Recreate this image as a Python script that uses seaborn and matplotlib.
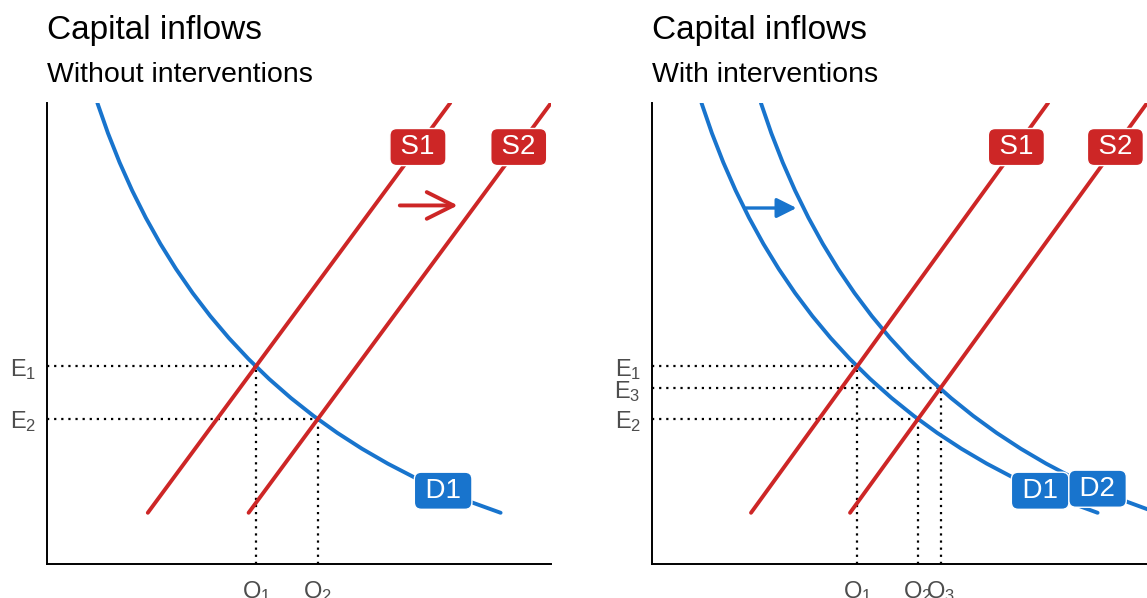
import matplotlib
matplotlib.use('Agg')
import matplotlib.pyplot as plt
import seaborn as sns

# Curves (x = quantity, y = price)
DEMAND1_X = [1.00, 1.21, 1.44, 1.69, 1.96, 2.25, 2.56, 2.89, 3.24, 3.61, 4.00,
             4.41, 4.84, 5.29, 5.76, 6.25, 6.76, 7.29, 7.84, 8.41, 9.00]
DEMAND2_X = [2.20, 2.41, 2.64, 2.89, 3.16, 3.45, 3.76, 4.09, 4.44, 4.81, 5.20,
             5.61, 6.04, 6.49, 6.96, 7.45, 7.96, 8.49, 9.04, 9.61, 10.20]
DEMAND_Y = [9.00, 8.41, 7.84, 7.29, 6.76, 6.25, 5.76, 5.29, 4.84, 4.41, 4.00,
            3.61, 3.24, 2.89, 2.56, 2.25, 1.96, 1.69, 1.44, 1.21, 1.00]
SUPPLY1_X = [2, 8]
SUPPLY2_X = [4, 10]
SUPPLY_Y = [1, 9]

# Equilibrium points
EQ_LEFT = {'1': (4.15, 3.86), '2': (5.37, 2.83)}
EQ_RIGHT = {'1': (4.15, 3.86), '3': (5.83, 3.43), '2': (5.37, 2.83)}

# Curve label positions
LABELS_LEFT = [('S1', 7.36, 8.14, 'red'), ('S2', 9.36, 8.14, 'red'), ('D1', 7.86, 1.43, 'blue')]
LABELS_RIGHT = [('S1', 7.36, 8.14, 'red'), ('S2', 9.36, 8.14, 'red'),
                ('D1', 7.84, 1.43, 'blue'), ('D2', 9.00, 1.47, 'blue')]

TITLES = ['Capital inflows', 'Capital inflows']
SUBTITLES = ['Without interventions', 'With interventions']

RED = '#CD2626'
BLUE = '#1874CD'
COLORS = {'red': RED, 'blue': BLUE}
W, H = 1147, 598
LW = 2.8


def style_axis(ax, xmax, eq, y_order):
    """Axis limits, spines and subscript tick labels."""
    ax.set_xlim(0, xmax)
    ax.set_ylim(0, 9)
    for side in ['top', 'right']:
        ax.spines[side].set_visible(False)
    for side in ['left', 'bottom']:
        ax.spines[side].set_color('black')
        ax.spines[side].set_linewidth(1.4)
    ax.set_yticks([eq[k][1] for k in y_order])
    ax.set_yticklabels([r'$\mathregular{E_%s}$' % k for k in y_order])
    x_order = sorted(eq, key=lambda k: eq[k][0])
    ax.set_xticks([eq[k][0] for k in x_order])
    ax.set_xticklabels([r'$\mathregular{Q_%s}$' % k for k in x_order])
    ax.tick_params(axis='both', length=0, labelsize=17, labelcolor='#4D4D4D')
    ax.tick_params(axis='y', pad=8)
    ax.tick_params(axis='x', pad=11)
    ax.set_xlabel('')
    ax.set_ylabel('')


def draw_guides(ax, eq):
    """Dotted lines from the axes to each equilibrium."""
    for ex, ey in eq.values():
        ax.plot([0, ex], [ey, ey], color='black', lw=1.6, linestyle=(0, (1, 2.2)), zorder=1)
        ax.plot([ex, ex], [0, ey], color='black', lw=1.6, linestyle=(0, (1, 2.2)), zorder=1)


def draw_labels(ax, labels):
    """Rounded boxes with white text sitting on the curves."""
    for text, x, y, c in labels:
        ax.text(x, y, '\u2009' + text + '\u2009', ha='center', va='center', color='white',
                fontsize=20, zorder=5,
                bbox=dict(boxstyle='round,pad=0.2,rounding_size=0.25', fc=COLORS[c], ec='white', lw=1))


sns.set_style('white')
plt.rcParams['font.family'] = ['Liberation Sans', 'DejaVu Sans']
plt.rcParams['mathtext.fontset'] = 'custom'
plt.rcParams['mathtext.rm'] = 'Liberation Sans'

fig = plt.figure(figsize=(W / 100, H / 100), dpi=100)
ax1 = fig.add_axes([47 / W, (H - 564) / H, 504 / W, 461 / H])
ax2 = fig.add_axes([652 / W, (H - 564) / H, 505 / W, 461 / H])

# Left panel: supply shift only
draw_guides(ax1, EQ_LEFT)
sns.lineplot(x=DEMAND1_X, y=DEMAND_Y, sort=False, estimator=None, color=BLUE, linewidth=LW, ax=ax1)
sns.lineplot(x=SUPPLY1_X, y=SUPPLY_Y, sort=False, estimator=None, color=RED, linewidth=LW, ax=ax1)
sns.lineplot(x=SUPPLY2_X, y=SUPPLY_Y, sort=False, estimator=None, color=RED, linewidth=LW, ax=ax1)
ax1.annotate('', xy=(8.15, 7.0), xytext=(7.0, 7.0),
             arrowprops=dict(arrowstyle='->,head_length=0.4,head_width=0.2', color=RED, lw=LW,
                             mutation_scale=48, shrinkA=0, shrinkB=0))
draw_labels(ax1, LABELS_LEFT)
style_axis(ax1, 10, EQ_LEFT, ['1', '2'])

# Right panel: supply and demand shift
draw_guides(ax2, EQ_RIGHT)
sns.lineplot(x=DEMAND1_X, y=DEMAND_Y, sort=False, estimator=None, color=BLUE, linewidth=LW, ax=ax2)
sns.lineplot(x=DEMAND2_X, y=DEMAND_Y, sort=False, estimator=None, color=BLUE, linewidth=LW, ax=ax2)
sns.lineplot(x=SUPPLY1_X, y=SUPPLY_Y, sort=False, estimator=None, color=RED, linewidth=LW, ax=ax2)
sns.lineplot(x=SUPPLY2_X, y=SUPPLY_Y, sort=False, estimator=None, color=RED, linewidth=LW, ax=ax2)
ax2.annotate('', xy=(2.92, 6.95), xytext=(1.9, 6.95),
             arrowprops=dict(arrowstyle='-|>,head_length=0.4,head_width=0.2', color=BLUE, lw=2.4,
                             mutation_scale=30, shrinkA=0, shrinkB=0))
draw_labels(ax2, LABELS_RIGHT)
style_axis(ax2, 10.2, EQ_RIGHT, ['1', '3', '2'])

# Titles
for x0, title, sub in zip([47, 652], TITLES, SUBTITLES):
    fig.text(x0 / W, 1 - 39 / H, title, fontsize=24, color='black', va='baseline', ha='left')
    fig.text(x0 / W, 1 - 82 / H, sub, fontsize=20.5, color='black', va='baseline', ha='left')

fig.savefig('out.png', dpi=100)
